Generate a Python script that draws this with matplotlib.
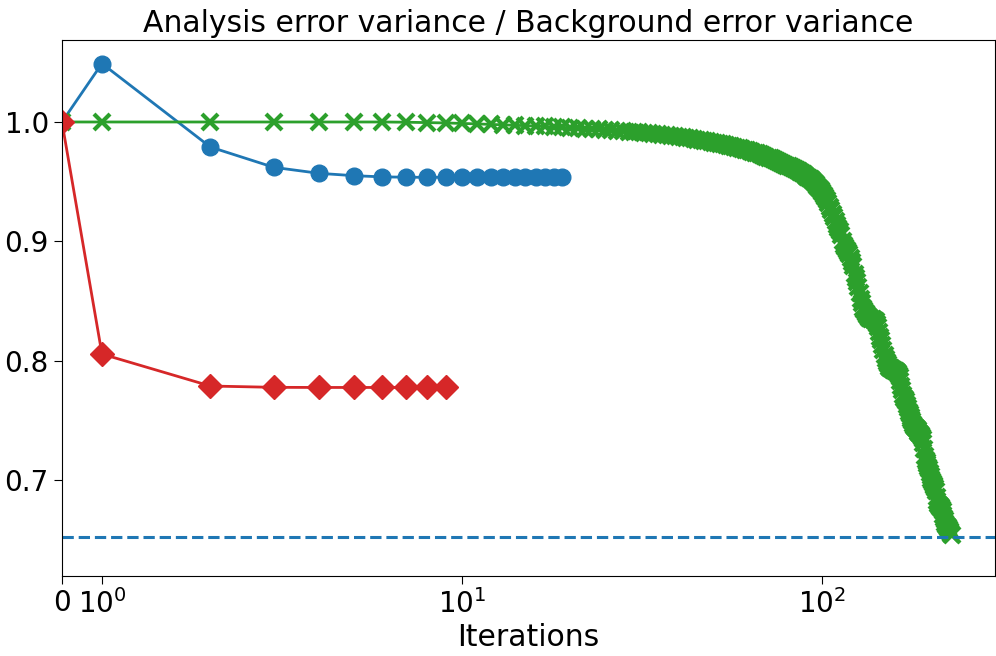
import matplotlib
matplotlib.use("Agg")
import matplotlib.pyplot as plt

# ratio analysis / background error variance per iteration
blue_vals = [1.0, 1.049, 0.979, 0.962, 0.957, 0.955, 0.954, 0.9537, 0.9536, 0.9536,
             0.9536, 0.9536, 0.9536, 0.9536, 0.9536, 0.9536, 0.9536, 0.9536, 0.9536, 0.9536]
red_vals = [1.0, 0.8055, 0.7787, 0.7776, 0.7775, 0.7775, 0.7775, 0.7775, 0.7775, 0.7775]
green_vals = [
    1.0, 1.0, 1.0, 1.0, 1.0, 1.0, 1.0, 0.9998, 0.9995, 0.9992,
    0.9988, 0.9984, 0.9980, 0.9977, 0.9973, 0.9970, 0.9966, 0.9963, 0.9959, 0.9956,
    0.9952, 0.9949, 0.9945, 0.9942, 0.9938, 0.9935, 0.9931, 0.9927, 0.9924, 0.9920,
    0.9916, 0.9912, 0.9908, 0.9904, 0.9900, 0.9896, 0.9892, 0.9888, 0.9884, 0.9879,
    0.9875, 0.9871, 0.9866, 0.9862, 0.9857, 0.9853, 0.9848, 0.9843, 0.9838, 0.9833,
    0.9828, 0.9823, 0.9818, 0.9813, 0.9808, 0.9802, 0.9797, 0.9791, 0.9786, 0.9780,
    0.9774, 0.9768, 0.9762, 0.9756, 0.9750, 0.9743, 0.9737, 0.9730, 0.9723, 0.9716,
    0.9709, 0.9702, 0.9694, 0.9686, 0.9678, 0.9670, 0.9662, 0.9653, 0.9644, 0.9640,
    0.9635, 0.9628, 0.9620, 0.9612, 0.9605, 0.9597, 0.9589, 0.9580, 0.9570, 0.9560,
    0.9550, 0.9540, 0.9530, 0.9520, 0.9510, 0.9495, 0.9480, 0.9465, 0.9448, 0.9430,
    0.9410, 0.9390, 0.9370, 0.9350, 0.9320, 0.9290, 0.9260, 0.9230, 0.9200, 0.9170,
    0.9140, 0.9115, 0.9090, 0.9050, 0.9005, 0.8970, 0.8950, 0.8930, 0.8910, 0.8890,
    0.8860, 0.8830, 0.8790, 0.8730, 0.8690, 0.8660, 0.8620, 0.8570, 0.8520, 0.8480,
    0.8440, 0.8420, 0.8400, 0.8385, 0.8370, 0.8360, 0.8355, 0.8350, 0.8345, 0.8340,
    0.8335, 0.8330, 0.8310, 0.8280, 0.8240, 0.8200, 0.8170, 0.8130, 0.8090, 0.8050,
    0.8010, 0.7990, 0.7970, 0.7950, 0.7940, 0.7935, 0.7930, 0.7925, 0.7920, 0.7915,
    0.7910, 0.7905, 0.7895, 0.7880, 0.7860, 0.7830, 0.7790, 0.7750, 0.7710, 0.7690,
    0.7680, 0.7660, 0.7630, 0.7600, 0.7570, 0.7550, 0.7530, 0.7510, 0.7490, 0.7470,
    0.7455, 0.7445, 0.7435, 0.7425, 0.7415, 0.7405, 0.7395, 0.7385, 0.7375, 0.7360,
    0.7340, 0.7310, 0.7260, 0.7200, 0.7170, 0.7150, 0.7130, 0.7110, 0.7090, 0.7060,
    0.7030, 0.7010, 0.6990, 0.6975, 0.6960, 0.6950, 0.6935, 0.6910, 0.6860, 0.6820,
    0.6800, 0.6790, 0.6780, 0.6775, 0.6770, 0.6760, 0.6740, 0.6710, 0.6680, 0.6660,
    0.6640, 0.6625, 0.6615, 0.6605, 0.6598, 0.6590, 0.6575, 0.6560, 0.6550, 0.6540,
]
optimum = 0.6522

fig, ax = plt.subplots(figsize=(9.96, 6.56), dpi=100)
fig.subplots_adjust(left=0.0622, right=0.999, top=0.939, bottom=0.122)

ax.plot(range(len(blue_vals)), blue_vals, "o-", color="#1f77b4", lw=2, ms=12)
ax.plot(range(len(green_vals)), green_vals, "x-", color="#2ca02c", lw=2, ms=11, mew=3)
ax.plot(range(len(red_vals)), red_vals, "D-", color="#d62728", lw=2, ms=12)
ax.axhline(optimum, color="#1f77b4", ls="--", lw=2.2)

ax.set_xscale("symlog", linthresh=1, linscale=0.1)
ax.set_xlim(0, 302)
ax.set_ylim(0.6195, 1.0687)
ax.set_yticks([0.7, 0.8, 0.9, 1.0])
ax.tick_params(labelsize=20, length=6)
ax.set_xlabel("Iterations", fontsize=21.5, labelpad=3)
ax.set_title("Analysis error variance / Background error variance", fontsize=21.5, pad=6)

fig.savefig("out.png", dpi=100)
